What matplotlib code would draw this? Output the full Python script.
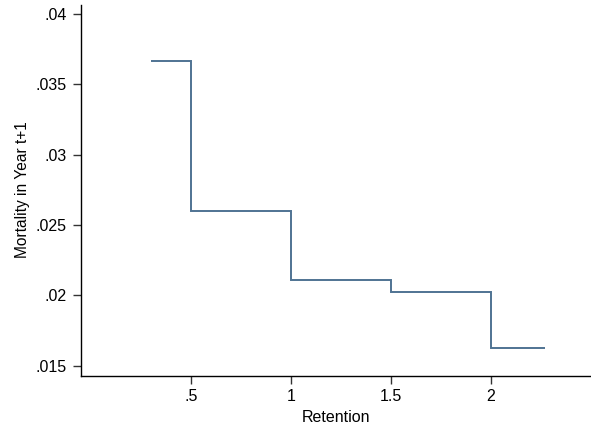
import matplotlib
matplotlib.use("Agg")
import matplotlib.pyplot as plt

edges = [0.30, 0.5, 1.0, 1.5, 2.0, 2.27]
mortality = [0.03668, 0.02601, 0.02106, 0.02021, 0.01628]
xticks = [0.5, 1.0, 1.5, 2.0]
xticklabels = [".5", "1", "1.5", "2"]
yticks = [0.015, 0.02, 0.025, 0.03, 0.035, 0.04]
yticklabels = [".015", ".02", ".025", ".03", ".035", ".04"]

plt.rcParams['font.family'] = ['Liberation Sans', 'DejaVu Sans']

fig = plt.figure(figsize=(5.91, 4.28), dpi=100)
W, H = 591, 428
left, right, top, bottom = 80.7, 590.5, 4.5, 375.5
ax = fig.add_axes([left / W, 1 - bottom / H, (right - left) / W, (bottom - top) / H])

ax.stairs(mortality, edges, color="#4f7393", linewidth=1.4, baseline=None)

x0 = -0.0519
ax.set_xlim(x0, x0 + (right - left) / 200.0)
ppu_y = (365.7 - 14.0) / 0.025
ax.set_ylim(0.015 - (bottom - 365.7) / ppu_y, 0.04 + (14.0 - top) / ppu_y)
ax.set_xticks(xticks)
ax.set_xticklabels(xticklabels)
ax.set_yticks(yticks)
ax.set_yticklabels(yticklabels)
ax.spines['top'].set_visible(False)
ax.spines['right'].set_visible(False)
for s in ('left', 'bottom'):
    ax.spines[s].set_linewidth(1.0)
    ax.spines[s].set_color('black')
ax.tick_params(axis='both', labelsize=11.5, length=6, width=1.0, color='#333333', pad=4)
ax.set_xlabel("Retention", fontsize=11.5, labelpad=4)
ax.set_ylabel("Mortality in Year t+1", fontsize=11.2, labelpad=4)

fig.savefig("out.png", dpi=100)
